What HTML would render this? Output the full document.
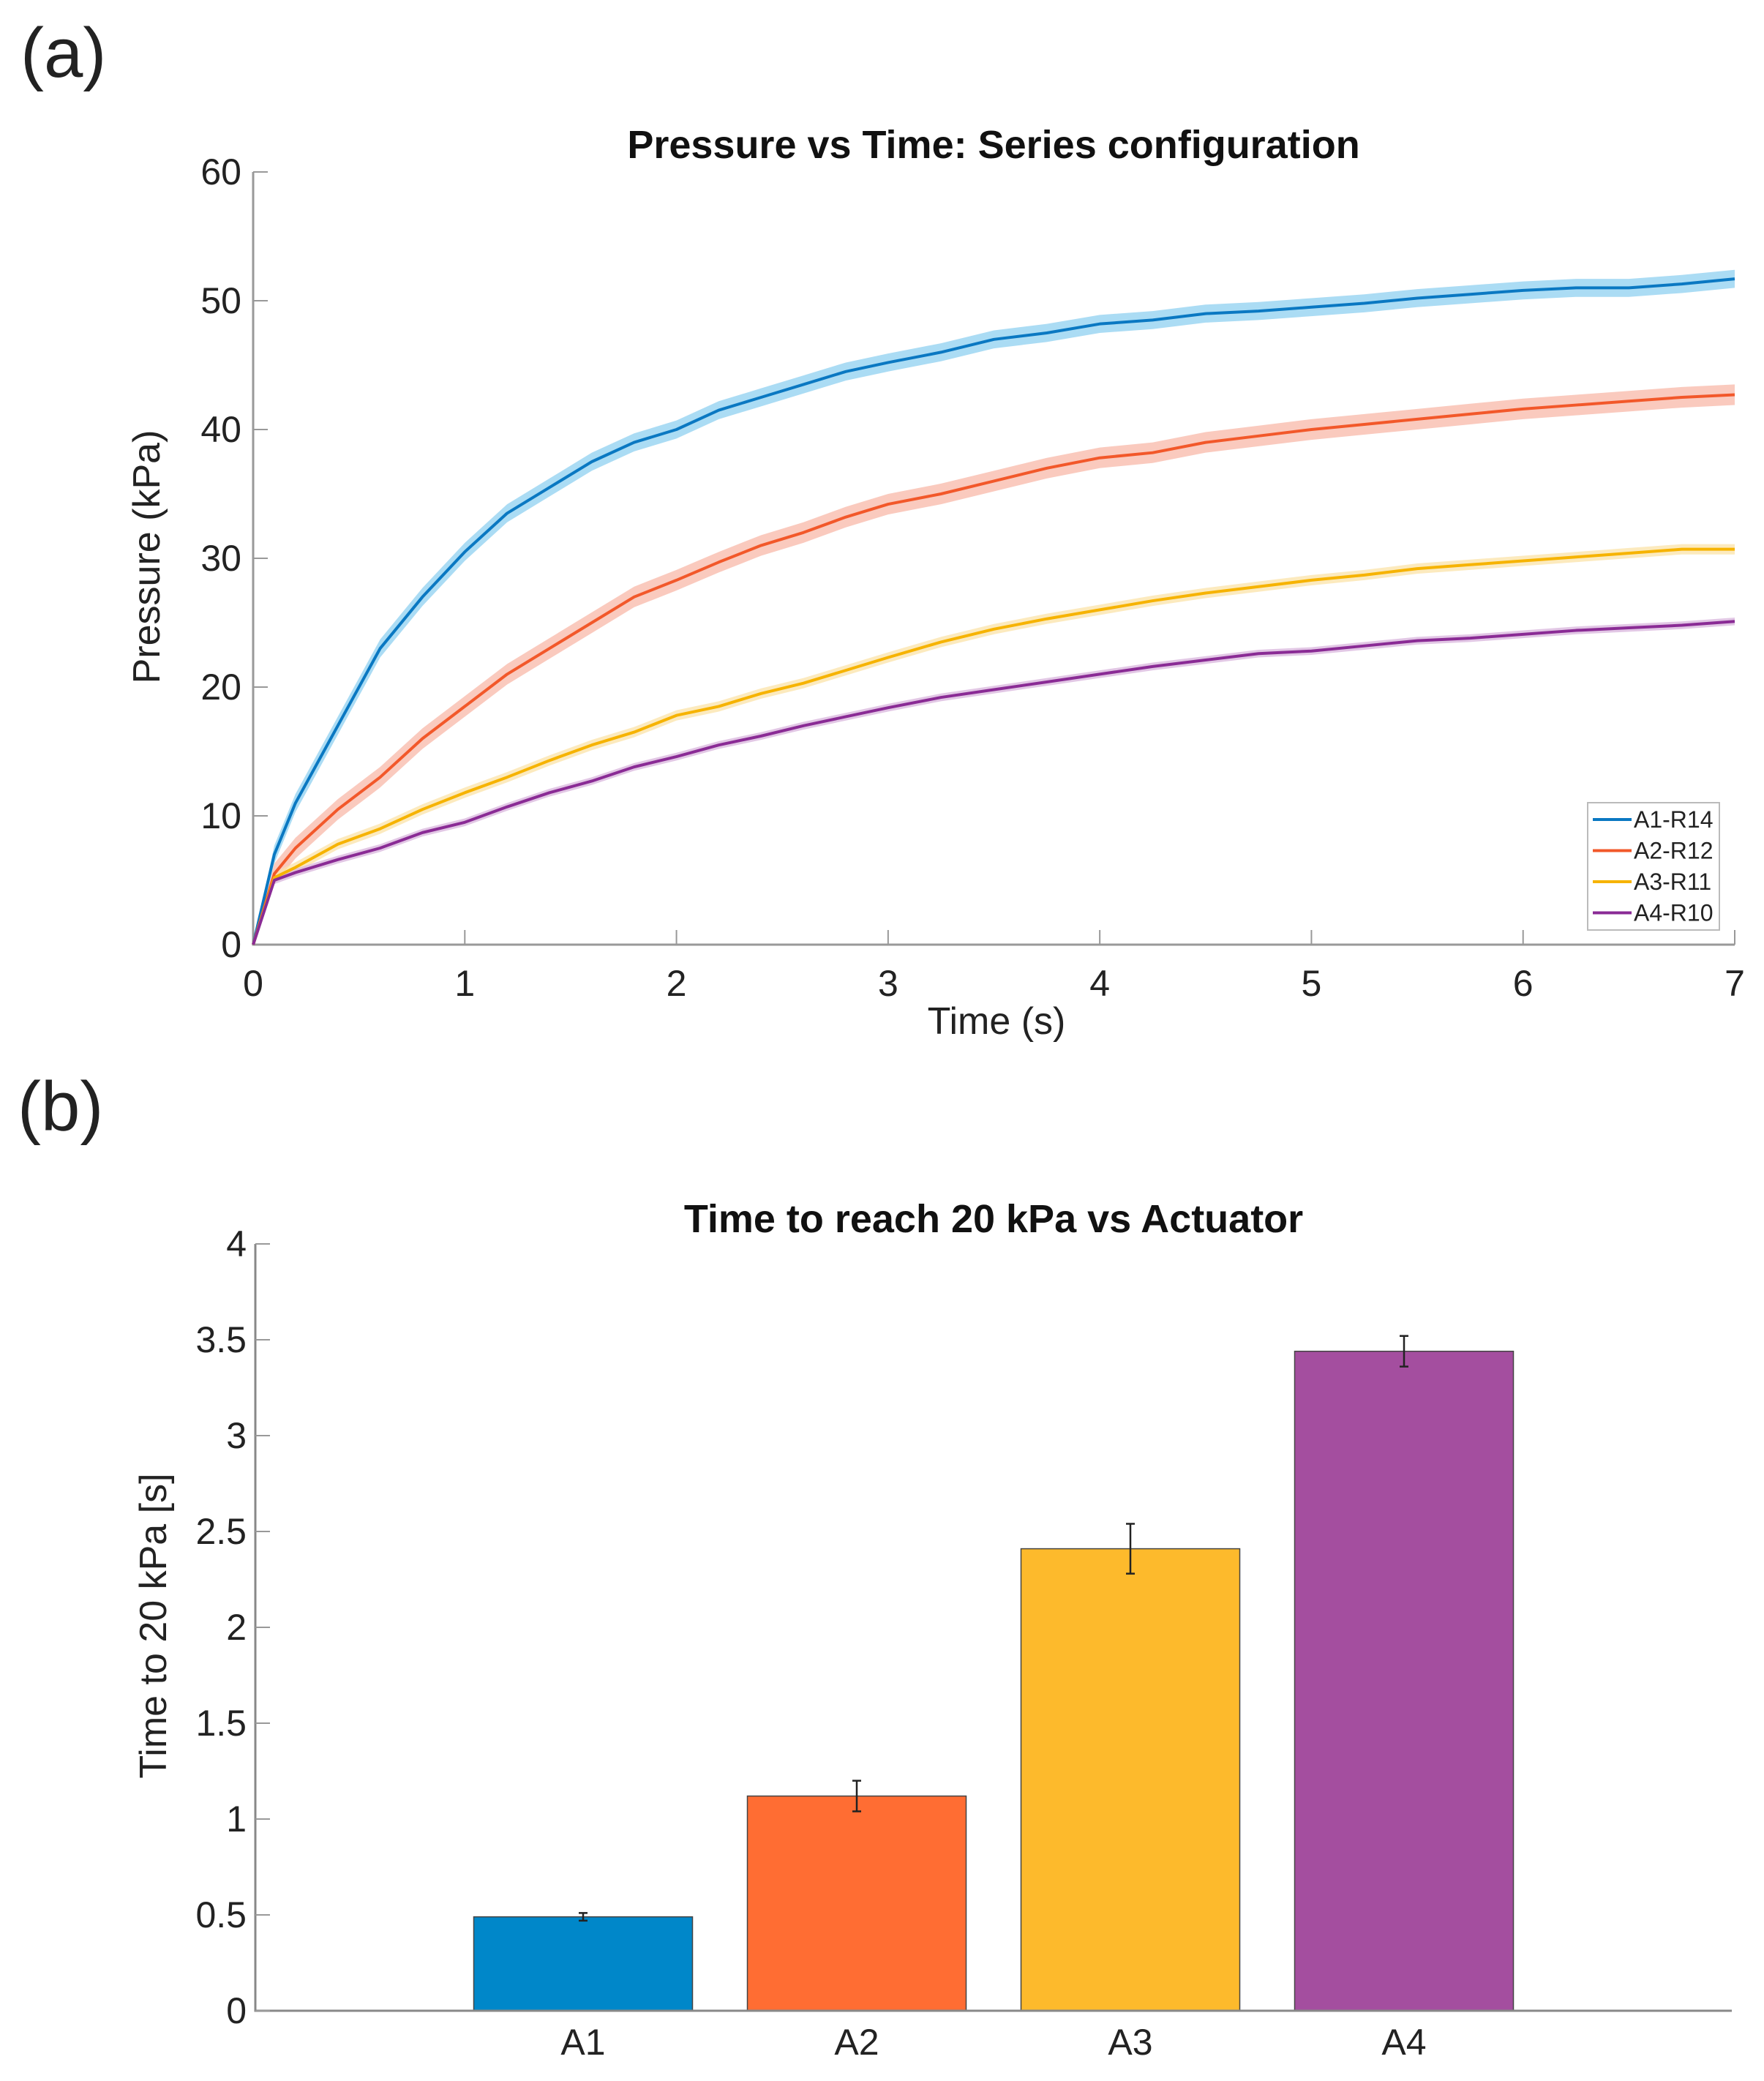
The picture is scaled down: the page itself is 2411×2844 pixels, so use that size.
<!DOCTYPE html>
<html><head><meta charset="utf-8"><style>
html,body{margin:0;padding:0;background:#fff}
svg{display:block;font-family:"Liberation Sans",Arial,sans-serif}
</style></head><body>
<svg id="fig" width="2411" height="2844" viewBox="0 0 2411 2844" xmlns="http://www.w3.org/2000/svg">
<text x="28" y="105" font-size="96" fill="#222">(a)</text>
<text x="24" y="1545" font-size="96" fill="#222">(b)</text>
<g id="chartA"></g>
<g id="chartB"></g>
</svg>
<script>
// ---- chart (a) data ----
const times = [0,0.1,0.2,0.4,0.6,0.8,1,1.2,1.4,1.6,1.8,2,2.2,2.4,2.6,2.8,3,3.25,3.5,3.75,4,4.25,4.5,4.75,5,5.25,5.5,5.75,6,6.25,6.5,6.75,7];
const a1r14 = [0,7,11,17,23,27,30.5,33.5,35.5,37.5,39,40,41.5,42.5,43.5,44.5,45.2,46,47,47.5,48.2,48.5,49,49.2,49.5,49.8,50.2,50.5,50.8,51,51,51.3,51.7];
const a2r12 = [0,5.5,7.5,10.5,13,16,18.5,21,23,25,27,28.3,29.7,31,32,33.2,34.2,35,36,37,37.8,38.2,39,39.5,40,40.4,40.8,41.2,41.6,41.9,42.2,42.5,42.7];
const a3r11 = [0,5.2,6,7.8,9,10.5,11.8,13,14.3,15.5,16.5,17.8,18.5,19.5,20.3,21.3,22.3,23.5,24.5,25.3,26,26.7,27.3,27.8,28.3,28.7,29.2,29.5,29.8,30.1,30.4,30.7,30.7];
const a4r10 = [0,5,5.6,6.6,7.5,8.7,9.5,10.7,11.8,12.7,13.8,14.6,15.5,16.2,17,17.7,18.4,19.2,19.8,20.4,21,21.6,22.1,22.6,22.8,23.2,23.6,23.8,24.1,24.4,24.6,24.8,25.1];
const seriesNames = ["A1-R14","A2-R12","A3-R11","A4-R10"];
const bandSpread = [0.7,0.8,0.4,0.3];
const xTicksA = [0,1,2,3,4,5,6,7];
const yTicksA = [0,10,20,30,40,50,60];
// ---- chart (b) data ----
const actuators = ["A1","A2","A3","A4"];
const meanTimes = [0.49,1.12,2.41,3.44];
const errTimes = [0.02,0.08,0.13,0.08];
const yTicksB = [0,0.5,1,1.5,2,2.5,3,3.5,4];

const NS="http://www.w3.org/2000/svg";
function mk(parent,tag,attrs,text){const e=document.createElementNS(NS,tag);for(const k in attrs)e.setAttribute(k,attrs[k]);if(text!==undefined)e.textContent=text;parent.appendChild(e);return e;}

// chart A
(function(){
const g=document.getElementById('chartA');
const X0=346,X1=2371,Y0=1291,Y1=235;
const sx=t=>X0+(t-0)/(7-0)*(X1-X0);
const sy=v=>Y0-(v-0)/(60-0)*(Y0-Y1);
const lineCols=["#0a78c2","#f2582a","#f6b300","#8a2b95"];
const bandCols=["#8fd0f0","#f8b8a8","#fbe3a8","#d8b4dc"];
const data=[a1r14,a2r12,a3r11,a4r10];
let t=mk(g,'text',{x:1358,y:216,'font-size':54,'font-weight':'bold','text-anchor':'middle',fill:'#111'},'Pressure vs Time: Series configuration');

let ax=mk(g,'path',{d:`M${X0},${Y1}V${Y0}H${X1}`,stroke:'#999',fill:'none','stroke-width':3});

yTicksA.forEach(v=>{
 let l=mk(g,'line',{x1:X0,x2:X0+20,y1:sy(v),y2:sy(v),stroke:'#999','stroke-width':2});
 
 let tx=mk(g,'text',{x:330,y:sy(v)+17,'font-size':50,'text-anchor':'end',fill:'#222'},String(v));
 
});
xTicksA.forEach(v=>{
 let l=mk(g,'line',{x1:sx(v),x2:sx(v),y1:Y0,y2:Y0-20,stroke:'#999','stroke-width':2});
 
 let tx=mk(g,'text',{x:sx(v),y:1361,'font-size':50,'text-anchor':'middle',fill:'#222'},String(v));
 
});
let xl=mk(g,'text',{x:1362,y:1413,'font-size':52,'text-anchor':'middle',fill:'#222'},'Time (s)');

let yl=mk(g,'text',{x:0,y:0,'font-size':52,'text-anchor':'middle',fill:'#222',transform:'translate(218,761) rotate(-90)'},'Pressure (kPa)');

data.forEach((s,i)=>{
 const up=s.map((v,j)=>`${sx(times[j])},${sy(v+(j?bandSpread[i]:0))}`);
 const dn=s.map((v,j)=>`${sx(times[j])},${sy(v-(j?bandSpread[i]:0))}`).reverse();
 let b=mk(g,'polygon',{points:up.concat(dn).join(' '),fill:bandCols[i],opacity:0.75});
 
});
data.forEach((s,i)=>{
 let p=mk(g,'polyline',{points:s.map((v,j)=>`${sx(times[j])},${sy(v)}`).join(' '),fill:'none',stroke:lineCols[i],'stroke-width':4,'stroke-linejoin':'round'});
 
});
let lg=mk(g,'g',{});

mk(lg,'rect',{x:2170,y:1097,width:180,height:174,fill:'#fff',stroke:'#bbb','stroke-width':2});
seriesNames.forEach((n,i)=>{
 const yy=1120+i*42.5;
 let e=mk(lg,'g',{});
 
 mk(e,'line',{x1:2177,x2:2230,y1:yy,y2:yy,stroke:lineCols[i],'stroke-width':4});
 mk(e,'text',{x:2233,y:yy+11,'font-size':32,fill:'#222'},n);
});
})();

// chart B
(function(){
const g=document.getElementById('chartB');
const X0=349,X1=2367,Y0=2748,Y1=1700;
const sy=v=>Y0-v/4*(Y0-Y1);
const centers=[797,1171,1545,1919];
const bw=299;
const cols=["#0087c9","#ff6d33","#fdba2c","#a44e9f"];
let t=mk(g,'text',{x:1358,y:1684,'font-size':54,'font-weight':'bold','text-anchor':'middle',fill:'#111'},'Time to reach 20 kPa vs Actuator');

actuators.forEach((a,i)=>{
 let r=mk(g,'rect',{x:centers[i]-bw/2,y:sy(meanTimes[i]),width:bw,height:Y0-sy(meanTimes[i]),fill:cols[i],stroke:'#444','stroke-width':1.5});
 
 const yt=sy(meanTimes[i]+errTimes[i]),yb=sy(meanTimes[i]-errTimes[i]);
 let e=mk(g,'path',{d:`M${centers[i]},${yt}V${yb}M${centers[i]-6},${yt}H${centers[i]+6}M${centers[i]-6},${yb}H${centers[i]+6}`,stroke:'#222','stroke-width':2.5,fill:'none'});
 
 let tx=mk(g,'text',{x:centers[i],y:2808,'font-size':50,'text-anchor':'middle',fill:'#222'},a);
 
});
let ax=mk(g,'path',{d:`M${X0},${Y1}V${Y0}H${X1}`,stroke:'#888',fill:'none','stroke-width':3});

yTicksB.forEach(v=>{
 let l=mk(g,'line',{x1:X0,x2:X0+20,y1:sy(v),y2:sy(v),stroke:'#999','stroke-width':2});
 
 let tx=mk(g,'text',{x:337,y:sy(v)+17,'font-size':50,'text-anchor':'end',fill:'#222'},String(v));
 
});
let yl=mk(g,'text',{x:0,y:0,'font-size':52,'text-anchor':'middle',fill:'#222',transform:'translate(227,2222) rotate(-90)'},'Time to 20 kPa [s]');

})();
</script>
</body></html>
